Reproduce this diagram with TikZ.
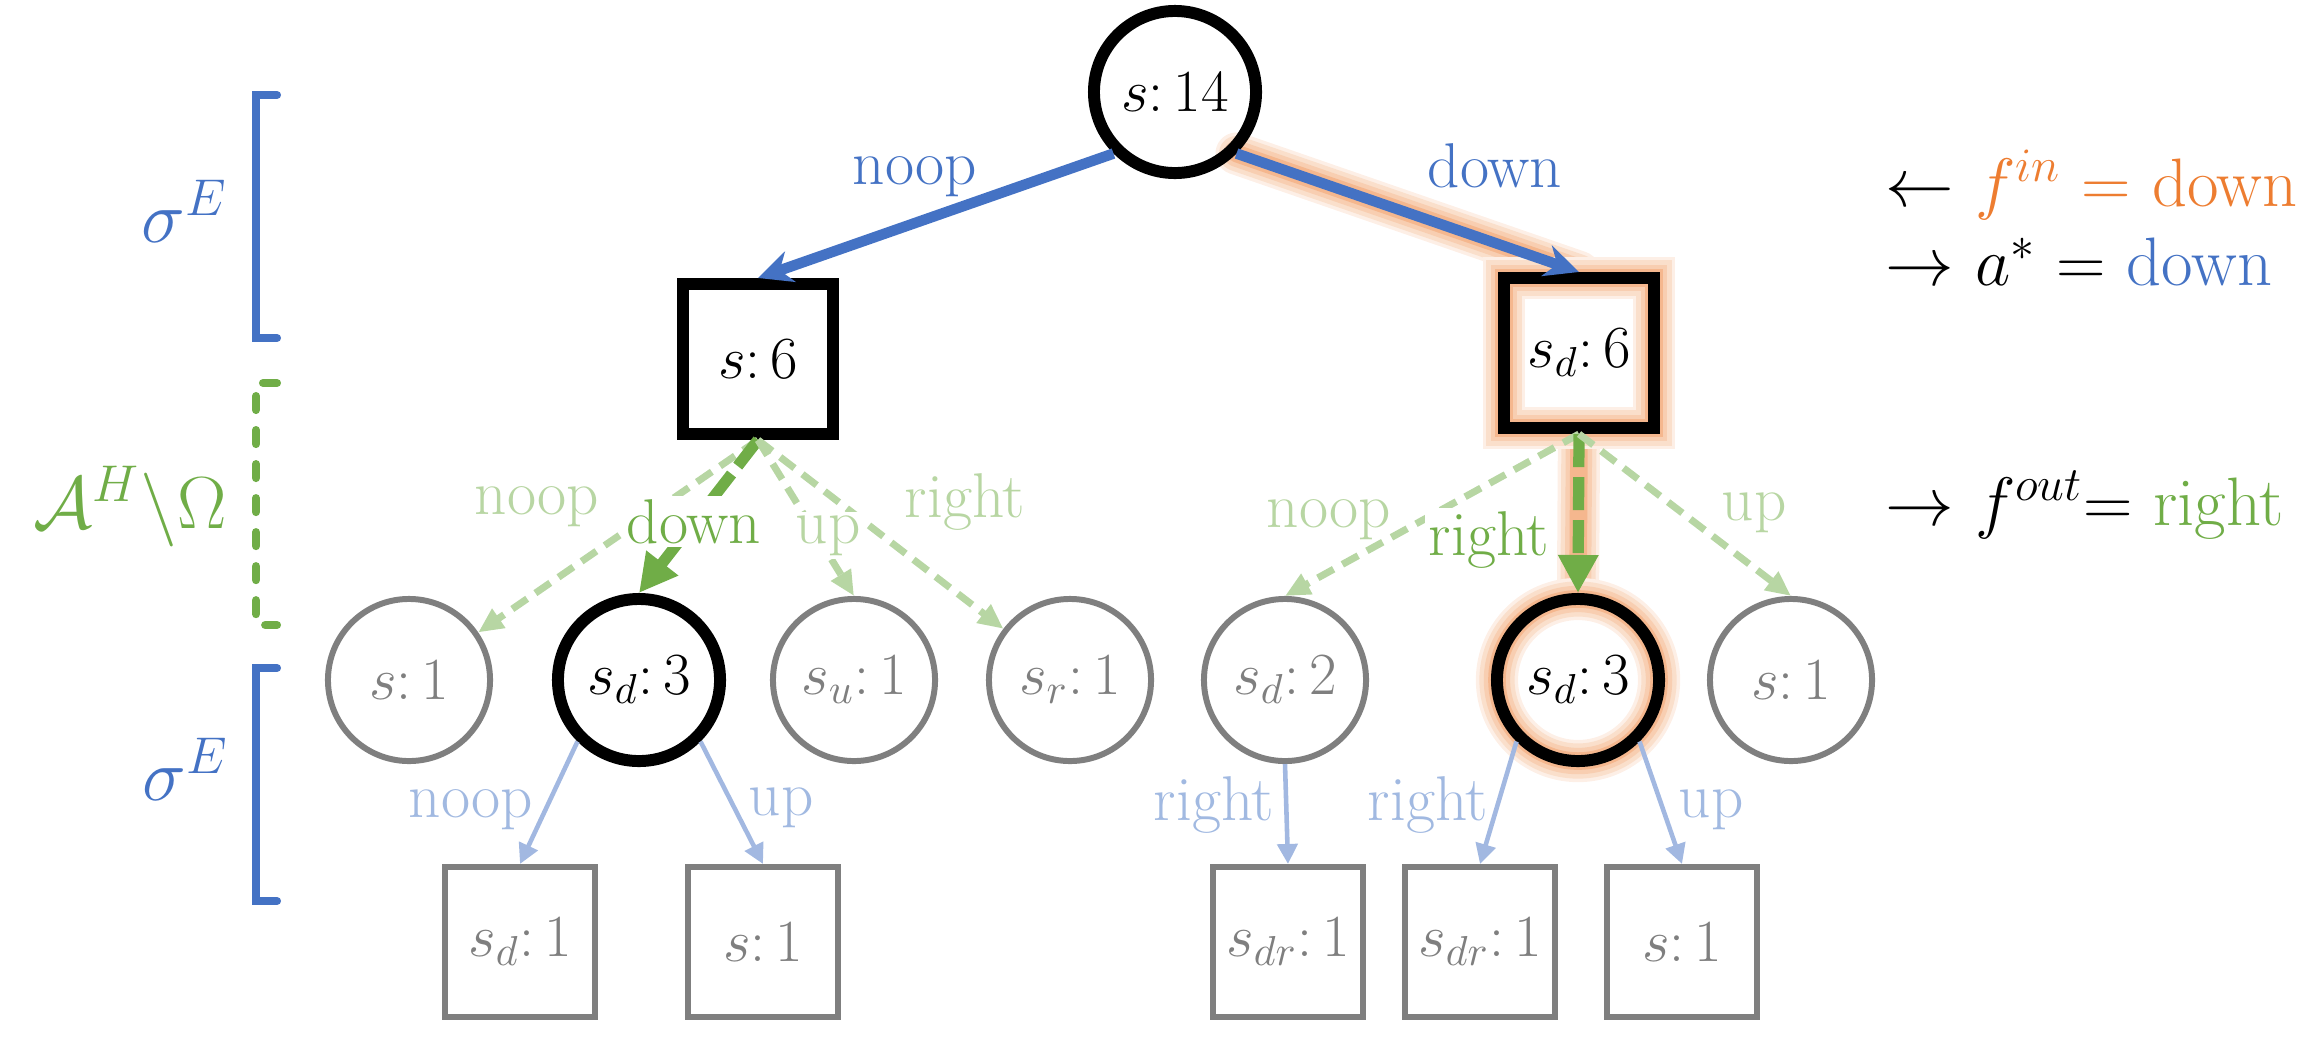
\RequirePackage{fix-cm}
\documentclass[tikz,border=0pt]{standalone}
\usepackage{amsmath,amssymb}
\usepackage{color}
\usepackage{tikz}
\usetikzlibrary{arrows.meta,positioning,calc,backgrounds}

\definecolor{myblue}{HTML}{4472C4}
\definecolor{myorange}{HTML}{ED7D31}
\definecolor{mygreen}{HTML}{70AD47}
\definecolor{mygray}{HTML}{7F7F7F}

\begin{document}
\begin{tikzpicture}[x=0.01cm,y=-0.01cm,
							every node/.style={font=\fontsize{17}{20}\selectfont},
							st/.style={circle,draw=black,line width=3.4pt,inner sep=0pt,minimum size=1.62cm},
							stg/.style={circle,draw=mygray,line width=1.7pt,inner sep=0pt,minimum size=1.62cm,text=mygray},
							ch/.style={rectangle,draw=black,line width=3.4pt,inner sep=0pt,minimum size=1.5cm},
							chg/.style={rectangle,draw=mygray,line width=1.7pt,inner sep=0pt,minimum size=1.5cm,text=mygray},
							glow/.style={preaction={draw=myorange!12,line width=12pt,line cap=round},
								preaction={draw=myorange!25,line width=10pt,line cap=round},
								preaction={draw=myorange!38,line width=7.5pt,line cap=round},
								preaction={draw=myorange!55,line width=5pt,line cap=round}},
							ebig/.style={draw=myblue,line width=3pt,-{Stealth[length=0.34cm,width=0.32cm]}},
							egreen/.style={draw=mygreen,line width=3.2pt,dash pattern=on 0.33cm off 0.1cm,-{Triangle[length=0.38cm,width=0.38cm]}},
							elight/.style={draw=mygreen!50,line width=2pt,dash pattern=on 0.18cm off 0.1cm,-{Triangle[length=0.25cm,width=0.22cm]}},
							eblue/.style={draw=myblue!50,line width=1.3pt,-{Triangle[length=0.2cm,width=0.2cm]}},
							lab/.style={anchor=base,inner sep=1pt,font=\fontsize{18}{21}\selectfont},
							labw/.style={lab,fill=white},
							brace/.style={line width=2.3pt,line cap=round},
							big/.style={font=\fontsize{21}{24}\selectfont,anchor=base,inner sep=0pt},
							side/.style={font=\fontsize{19.5}{22}\selectfont,anchor=base west,inner sep=0pt}]
	\useasboundingbox (0,0) rectangle (2321,1042);
	\path	(1175,92)	node	(r)	[st] {$s{:}\,14$}
			(758,359)	node	(q1)	[ch] {$s{:}\,6$}
			(1579,353)	node	(q2)	[ch,glow] {$s_d{:}\,6$};
	\path	(409,680)	node	(n1)	[stg] {$s{:}\,1$}
			(639,680)	node	(n2)	[st] {$s_d{:}\,3$}
			(854,680)	node	(n3)	[stg] {$s_u{:}\,1$}
			(1070,680)	node	(n4)	[stg] {$s_r{:}\,1$}
			(1285,680)	node	(n5)	[stg] {$s_d{:}\,2$}
			(1578,680)	node	(n6)	[st,glow] {$s_d{:}\,3$}
			(1791,680)	node	(n7)	[stg] {$s{:}\,1$};
	\path	(520,942)	node	(m1)	[chg] {$s_d{:}\,1$}
			(763,942)	node	(m2)	[chg] {$s{:}\,1$}
			(1288,942)	node	(m3)	[chg] {$s_{dr}{:}\,1$}
			(1480,942)	node	(m4)	[chg] {$s_{dr}{:}\,1$}
			(1682,942)	node	(m5)	[chg] {$s{:}\,1$};
	\begin{scope}[on background layer]
		\path[glow] (r.south east) -- (q2.north);
		\path[glow] (q2.south) -- (n6.north);
	\end{scope}
	\draw[ebig] (r.south west) -- (q1.north);
	\draw[ebig] (r.south east) -- (q2.north);
	\draw[elight] (q1.south) -- (n1);
	\draw[egreen] (q1.south) -- (n2.north);
	\draw[elight] (q1.south) -- (n3.north);
	\draw[elight] (q1.south) -- (n4);
	\draw[elight] (q2.south) -- (n5.north);
	\draw[egreen] (q2.south) -- (n6.north);
	\draw[elight] (q2.south) -- (n7.north);
	\draw[eblue] (n2.south west) -- (m1.north);
	\draw[eblue] (n2.south east) -- (m2.north);
	\draw[eblue] (n5.south) -- (m3.north);
	\draw[eblue] (n6.south west) -- (m4.north);
	\draw[eblue] (n6.south east) -- (m5.north);
	\node[lab,text=myblue] at (915,184) {noop};
	\node[lab,text=myblue] at (1495,187) {down};
	\node[labw,text=mygreen!50] at (537,514) {noop};
	\node[labw,text=mygreen] at (694,543) {down};
	\node[labw,text=mygreen!50] at (828,543) {up};
	\node[lab,text=mygreen!50] at (965,517) {right};
	\node[lab,text=mygreen!50] at (1329,527) {noop};
	\node[labw,text=mygreen] at (1489,555) {right};
	\node[lab,text=mygreen!50] at (1754,520) {up};
	\node[lab,text=myblue!50] at (471,817) {noop};
	\node[lab,text=myblue!50] at (781,815) {up};
	\node[lab,text=myblue!50] at (1214,820) {right};
	\node[lab,text=myblue!50] at (1428,820) {right};
	\node[lab,text=myblue!50] at (1711,817) {up};
	\draw[brace,myblue] (277,95) -- (256,95) -- (256,338) -- (277,338);
	\draw[brace,mygreen,dash pattern=on 0.14cm off 0.2cm] (277,383) -- (256,383) -- (256,625) -- (277,625);
	\draw[brace,myblue] (277,668) -- (256,668) -- (256,901) -- (277,901);
	\node[big,text=myblue] at (185,242) {$\sigma^E$};
	\node[big,text=mygreen] at (130,528) {$\mathcal{A}^H\backslash\Omega$};
	\node[big,text=myblue] at (186,800) {$\sigma^E$};
	\node[side] (fin) at (1885,206) {$\leftarrow$ \textcolor{myorange}{$f^{in}$ $=$ down}};
	\node[side] (ast) at (1885,285) {$\rightarrow$ $a^{*}$ $=$ \textcolor{myblue}{down}};
	\node[side] (fout) at (1885,525) {$\rightarrow$ $f^{out}{=}$ \textcolor{mygreen}{right}};
\end{tikzpicture}
\end{document}
